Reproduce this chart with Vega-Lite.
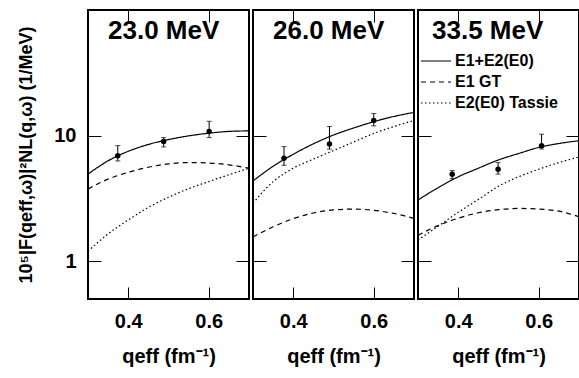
{
  "$schema": "https://vega.github.io/schema/vega-lite/v6.json",
  "padding": {"left": 16, "top": 9, "right": 0, "bottom": 0},
  "spacing": 4,
  "bounds": "flush",
  "config": {
    "font": "Liberation Sans",
    "view": {"stroke": "black", "strokeWidth": 2, "fill": "transparent"},
    "axis": {"domain": false, "ticks": false, "grid": true, "gridColor": "black", "gridOpacity": 1, "gridWidth": 1, "labelColor": "black", "titleColor": "black", "labelFont": "Liberation Sans", "titleFont": "Liberation Sans", "labelFontWeight": "bold", "titleFontWeight": "bold", "labelOverlap": false, "labelFlush": false, "minExtent": 0}
  },
  "resolve": {"scale": {"strokeDash": "independent"}, "legend": {"strokeDash": "independent"}},
  "datasets": {
    "curves": [
      {"p": "23.0 MeV", "m": "E1+E2(E0)", "q": 0.3, "v": 4.94},
      {"p": "23.0 MeV", "m": "E1+E2(E0)", "q": 0.35, "v": 6.3},
      {"p": "23.0 MeV", "m": "E1+E2(E0)", "q": 0.4, "v": 7.5},
      {"p": "23.0 MeV", "m": "E1+E2(E0)", "q": 0.45, "v": 8.5},
      {"p": "23.0 MeV", "m": "E1+E2(E0)", "q": 0.5, "v": 9.3},
      {"p": "23.0 MeV", "m": "E1+E2(E0)", "q": 0.55, "v": 9.95},
      {"p": "23.0 MeV", "m": "E1+E2(E0)", "q": 0.6, "v": 10.45},
      {"p": "23.0 MeV", "m": "E1+E2(E0)", "q": 0.65, "v": 10.8},
      {"p": "23.0 MeV", "m": "E1+E2(E0)", "q": 0.7, "v": 10.9},
      {"p": "23.0 MeV", "m": "E1 GT", "q": 0.3, "v": 3.76},
      {"p": "23.0 MeV", "m": "E1 GT", "q": 0.35, "v": 4.5},
      {"p": "23.0 MeV", "m": "E1 GT", "q": 0.4, "v": 5.1},
      {"p": "23.0 MeV", "m": "E1 GT", "q": 0.45, "v": 5.6},
      {"p": "23.0 MeV", "m": "E1 GT", "q": 0.5, "v": 5.95},
      {"p": "23.0 MeV", "m": "E1 GT", "q": 0.55, "v": 6.1},
      {"p": "23.0 MeV", "m": "E1 GT", "q": 0.6, "v": 6.05},
      {"p": "23.0 MeV", "m": "E1 GT", "q": 0.65, "v": 5.85},
      {"p": "23.0 MeV", "m": "E1 GT", "q": 0.7, "v": 5.5},
      {"p": "23.0 MeV", "m": "E2(E0) Tassie", "q": 0.3, "v": 1.2},
      {"p": "23.0 MeV", "m": "E2(E0) Tassie", "q": 0.35, "v": 1.65},
      {"p": "23.0 MeV", "m": "E2(E0) Tassie", "q": 0.4, "v": 2.13},
      {"p": "23.0 MeV", "m": "E2(E0) Tassie", "q": 0.45, "v": 2.68},
      {"p": "23.0 MeV", "m": "E2(E0) Tassie", "q": 0.5, "v": 3.23},
      {"p": "23.0 MeV", "m": "E2(E0) Tassie", "q": 0.55, "v": 3.78},
      {"p": "23.0 MeV", "m": "E2(E0) Tassie", "q": 0.6, "v": 4.3},
      {"p": "23.0 MeV", "m": "E2(E0) Tassie", "q": 0.65, "v": 4.88},
      {"p": "23.0 MeV", "m": "E2(E0) Tassie", "q": 0.7, "v": 5.5},
      {"p": "26.0 MeV", "m": "E1+E2(E0)", "q": 0.3, "v": 4.35},
      {"p": "26.0 MeV", "m": "E1+E2(E0)", "q": 0.35, "v": 5.7},
      {"p": "26.0 MeV", "m": "E1+E2(E0)", "q": 0.4, "v": 7.1},
      {"p": "26.0 MeV", "m": "E1+E2(E0)", "q": 0.45, "v": 8.6},
      {"p": "26.0 MeV", "m": "E1+E2(E0)", "q": 0.5, "v": 10.1},
      {"p": "26.0 MeV", "m": "E1+E2(E0)", "q": 0.55, "v": 11.5},
      {"p": "26.0 MeV", "m": "E1+E2(E0)", "q": 0.6, "v": 12.9},
      {"p": "26.0 MeV", "m": "E1+E2(E0)", "q": 0.65, "v": 14.2},
      {"p": "26.0 MeV", "m": "E1+E2(E0)", "q": 0.7, "v": 15.3},
      {"p": "26.0 MeV", "m": "E1 GT", "q": 0.3, "v": 1.56},
      {"p": "26.0 MeV", "m": "E1 GT", "q": 0.35, "v": 1.88},
      {"p": "26.0 MeV", "m": "E1 GT", "q": 0.4, "v": 2.18},
      {"p": "26.0 MeV", "m": "E1 GT", "q": 0.45, "v": 2.42},
      {"p": "26.0 MeV", "m": "E1 GT", "q": 0.5, "v": 2.56},
      {"p": "26.0 MeV", "m": "E1 GT", "q": 0.55, "v": 2.6},
      {"p": "26.0 MeV", "m": "E1 GT", "q": 0.6, "v": 2.54},
      {"p": "26.0 MeV", "m": "E1 GT", "q": 0.65, "v": 2.4},
      {"p": "26.0 MeV", "m": "E1 GT", "q": 0.7, "v": 2.19},
      {"p": "26.0 MeV", "m": "E2(E0) Tassie", "q": 0.3, "v": 2.9},
      {"p": "26.0 MeV", "m": "E2(E0) Tassie", "q": 0.35, "v": 4.3},
      {"p": "26.0 MeV", "m": "E2(E0) Tassie", "q": 0.4, "v": 5.5},
      {"p": "26.0 MeV", "m": "E2(E0) Tassie", "q": 0.45, "v": 6.5},
      {"p": "26.0 MeV", "m": "E2(E0) Tassie", "q": 0.5, "v": 7.6},
      {"p": "26.0 MeV", "m": "E2(E0) Tassie", "q": 0.55, "v": 8.9},
      {"p": "26.0 MeV", "m": "E2(E0) Tassie", "q": 0.6, "v": 10.4},
      {"p": "26.0 MeV", "m": "E2(E0) Tassie", "q": 0.65, "v": 11.8},
      {"p": "26.0 MeV", "m": "E2(E0) Tassie", "q": 0.7, "v": 13.2},
      {"p": "33.5 MeV", "m": "E1+E2(E0)", "q": 0.3, "v": 3.07},
      {"p": "33.5 MeV", "m": "E1+E2(E0)", "q": 0.35, "v": 3.85},
      {"p": "33.5 MeV", "m": "E1+E2(E0)", "q": 0.4, "v": 4.7},
      {"p": "33.5 MeV", "m": "E1+E2(E0)", "q": 0.45, "v": 5.5},
      {"p": "33.5 MeV", "m": "E1+E2(E0)", "q": 0.5, "v": 6.4},
      {"p": "33.5 MeV", "m": "E1+E2(E0)", "q": 0.55, "v": 7.2},
      {"p": "33.5 MeV", "m": "E1+E2(E0)", "q": 0.6, "v": 8.05},
      {"p": "33.5 MeV", "m": "E1+E2(E0)", "q": 0.65, "v": 8.65},
      {"p": "33.5 MeV", "m": "E1+E2(E0)", "q": 0.7, "v": 9.1},
      {"p": "33.5 MeV", "m": "E1 GT", "q": 0.3, "v": 1.61},
      {"p": "33.5 MeV", "m": "E1 GT", "q": 0.35, "v": 1.92},
      {"p": "33.5 MeV", "m": "E1 GT", "q": 0.4, "v": 2.2},
      {"p": "33.5 MeV", "m": "E1 GT", "q": 0.45, "v": 2.43},
      {"p": "33.5 MeV", "m": "E1 GT", "q": 0.5, "v": 2.57},
      {"p": "33.5 MeV", "m": "E1 GT", "q": 0.55, "v": 2.63},
      {"p": "33.5 MeV", "m": "E1 GT", "q": 0.6, "v": 2.6},
      {"p": "33.5 MeV", "m": "E1 GT", "q": 0.65, "v": 2.5},
      {"p": "33.5 MeV", "m": "E1 GT", "q": 0.7, "v": 2.26},
      {"p": "33.5 MeV", "m": "E2(E0) Tassie", "q": 0.3, "v": 1.47},
      {"p": "33.5 MeV", "m": "E2(E0) Tassie", "q": 0.35, "v": 1.9},
      {"p": "33.5 MeV", "m": "E2(E0) Tassie", "q": 0.4, "v": 2.45},
      {"p": "33.5 MeV", "m": "E2(E0) Tassie", "q": 0.45, "v": 3.1},
      {"p": "33.5 MeV", "m": "E2(E0) Tassie", "q": 0.5, "v": 3.95},
      {"p": "33.5 MeV", "m": "E2(E0) Tassie", "q": 0.55, "v": 4.7},
      {"p": "33.5 MeV", "m": "E2(E0) Tassie", "q": 0.6, "v": 5.4},
      {"p": "33.5 MeV", "m": "E2(E0) Tassie", "q": 0.65, "v": 6.1},
      {"p": "33.5 MeV", "m": "E2(E0) Tassie", "q": 0.7, "v": 6.75}
    ],
    "pts": [
      {"p": "23.0 MeV", "q": 0.374, "v": 6.92, "lo": 6.28, "hi": 8.32},
      {"p": "23.0 MeV", "q": 0.488, "v": 8.96, "lo": 8.12, "hi": 9.64},
      {"p": "23.0 MeV", "q": 0.601, "v": 10.76, "lo": 9.64, "hi": 13.0},
      {"p": "26.0 MeV", "q": 0.377, "v": 6.6, "lo": 5.8, "hi": 8.17},
      {"p": "26.0 MeV", "q": 0.49, "v": 8.59, "lo": 7.8, "hi": 11.8},
      {"p": "26.0 MeV", "q": 0.6, "v": 13.2, "lo": 11.95, "hi": 14.98},
      {"p": "33.5 MeV", "q": 0.385, "v": 4.92, "lo": 4.54, "hi": 5.26},
      {"p": "33.5 MeV", "q": 0.499, "v": 5.39, "lo": 4.94, "hi": 6.09},
      {"p": "33.5 MeV", "q": 0.607, "v": 8.32, "lo": 7.83, "hi": 10.26}
    ]
  },
  "hconcat": [
    {
      "width": 161, "height": 289,
      "title": {"text": "23.0 MeV", "anchor": "start", "orient": "top", "frame": "group", "offset": -55, "dx": 20, "baseline": "alphabetic", "fontSize": 26, "fontWeight": "bold", "color": "black", "font": "Liberation Sans"},
      "resolve": {"axis": {"x": "independent", "y": "independent"}},
      "layer": [
        {
          "data": {"name": "curves"},
          "transform": [{"filter": "datum.p == '23.0 MeV'"}],
          "mark": {"type": "line", "interpolate": "monotone", "color": "black", "strokeWidth": 1.2},
          "encoding": {
            "x": {"field": "q", "type": "quantitative", "scale": {"domain": [0.3, 0.7], "nice": false, "zero": false},
              "axis": {"orient": "bottom", "values": [0.4, 0.6], "format": ".1f", "gridDash": [12, 265, 12, 400], "labelPadding": 12, "labelFontSize": 20, "title": "qeff (fm⁻¹)", "titleFontSize": 20, "titlePadding": 15}},
            "y": {"field": "v", "type": "quantitative", "scale": {"type": "log", "domain": [0.5, 100], "nice": false},
              "axis": {"orient": "left", "values": [1, 10], "format": "d", "gridDash": [13, 135, 13, 400], "labelPadding": 12, "labelFontSize": 20, "title": "10⁵|F(qeff,ω)|²NL(q,ω) (1/MeV)", "titleFontSize": 18, "titlePadding": 18}},
            "strokeDash": {"field": "m", "type": "nominal", "scale": {"domain": ["E1+E2(E0)", "E1 GT", "E2(E0) Tassie"], "range": [[1, 0], [5, 4], [1.5, 2.5]]}, "legend": null}
          }
        },
        {
          "data": {"name": "pts"},
          "transform": [{"filter": "datum.p == '23.0 MeV'"}],
          "mark": {"type": "rule", "color": "black", "strokeWidth": 1},
          "encoding": {
            "x": {"field": "q", "type": "quantitative", "axis": {"orient": "bottom", "values": [0.35, 0.45, 0.5, 0.55, 0.65], "labels": false, "title": null, "gridDash": [6, 277, 6, 400]}},
            "y": {"field": "lo", "type": "quantitative", "axis": {"orient": "left", "values": [0.5, 0.6, 0.7, 0.8, 0.9, 2, 3, 4, 5, 6, 7, 8, 9, 20, 30, 40, 50, 60, 70, 80, 90], "labels": false, "title": null, "gridDash": [5, 151, 5, 400]}},
            "y2": {"field": "hi"}
          }
        },
        {
          "data": {"name": "pts"},
          "transform": [{"filter": "datum.p == '23.0 MeV'"}],
          "mark": {"type": "point", "filled": true, "color": "black", "size": 30, "opacity": 1},
          "encoding": {
            "x": {"field": "q", "type": "quantitative", "axis": null},
            "y": {"field": "v", "type": "quantitative", "axis": null}
          }
        },
        {
          "data": {"name": "pts"},
          "transform": [{"filter": "datum.p == '23.0 MeV'"}],
          "mark": {"type": "tick", "orient": "horizontal", "color": "black", "size": 5, "thickness": 1},
          "encoding": {
            "x": {"field": "q", "type": "quantitative", "axis": null},
            "y": {"field": "lo", "type": "quantitative", "axis": null}
          }
        },
        {
          "data": {"name": "pts"},
          "transform": [{"filter": "datum.p == '23.0 MeV'"}],
          "mark": {"type": "tick", "orient": "horizontal", "color": "black", "size": 5, "thickness": 1},
          "encoding": {
            "x": {"field": "q", "type": "quantitative", "axis": null},
            "y": {"field": "hi", "type": "quantitative", "axis": null}
          }
        }
      ]
    },
    {
      "width": 161, "height": 289,
      "title": {"text": "26.0 MeV", "anchor": "start", "orient": "top", "frame": "group", "offset": -55, "dx": 20, "baseline": "alphabetic", "fontSize": 26, "fontWeight": "bold", "color": "black", "font": "Liberation Sans"},
      "resolve": {"axis": {"x": "independent", "y": "independent"}},
      "layer": [
        {
          "data": {"name": "curves"},
          "transform": [{"filter": "datum.p == '26.0 MeV'"}],
          "mark": {"type": "line", "interpolate": "monotone", "color": "black", "strokeWidth": 1.2},
          "encoding": {
            "x": {"field": "q", "type": "quantitative", "scale": {"domain": [0.3, 0.7], "nice": false, "zero": false},
              "axis": {"orient": "bottom", "values": [0.4, 0.6], "format": ".1f", "gridDash": [12, 265, 12, 400], "labelPadding": 12, "labelFontSize": 20, "title": "qeff (fm⁻¹)", "titleFontSize": 20, "titlePadding": 15}},
            "y": {"field": "v", "type": "quantitative", "scale": {"type": "log", "domain": [0.5, 100], "nice": false},
              "axis": {"orient": "left", "values": [1, 10], "labels": false, "title": null, "gridDash": [13, 135, 13, 400]}},
            "strokeDash": {"field": "m", "type": "nominal", "scale": {"domain": ["E1+E2(E0)", "E1 GT", "E2(E0) Tassie"], "range": [[1, 0], [5, 4], [1.5, 2.5]]}, "legend": null}
          }
        },
        {
          "data": {"name": "pts"},
          "transform": [{"filter": "datum.p == '26.0 MeV'"}],
          "mark": {"type": "rule", "color": "black", "strokeWidth": 1},
          "encoding": {
            "x": {"field": "q", "type": "quantitative", "axis": {"orient": "bottom", "values": [0.35, 0.45, 0.5, 0.55, 0.65], "labels": false, "title": null, "gridDash": [6, 277, 6, 400]}},
            "y": {"field": "lo", "type": "quantitative", "axis": {"orient": "left", "values": [0.5, 0.6, 0.7, 0.8, 0.9, 2, 3, 4, 5, 6, 7, 8, 9, 20, 30, 40, 50, 60, 70, 80, 90], "labels": false, "title": null, "gridDash": [5, 151, 5, 400]}},
            "y2": {"field": "hi"}
          }
        },
        {
          "data": {"name": "pts"},
          "transform": [{"filter": "datum.p == '26.0 MeV'"}],
          "mark": {"type": "point", "filled": true, "color": "black", "size": 30, "opacity": 1},
          "encoding": {
            "x": {"field": "q", "type": "quantitative", "axis": null},
            "y": {"field": "v", "type": "quantitative", "axis": null}
          }
        },
        {
          "data": {"name": "pts"},
          "transform": [{"filter": "datum.p == '26.0 MeV'"}],
          "mark": {"type": "tick", "orient": "horizontal", "color": "black", "size": 5, "thickness": 1},
          "encoding": {
            "x": {"field": "q", "type": "quantitative", "axis": null},
            "y": {"field": "lo", "type": "quantitative", "axis": null}
          }
        },
        {
          "data": {"name": "pts"},
          "transform": [{"filter": "datum.p == '26.0 MeV'"}],
          "mark": {"type": "tick", "orient": "horizontal", "color": "black", "size": 5, "thickness": 1},
          "encoding": {
            "x": {"field": "q", "type": "quantitative", "axis": null},
            "y": {"field": "hi", "type": "quantitative", "axis": null}
          }
        }
      ]
    },
    {
      "width": 161, "height": 289,
      "title": {"text": "33.5 MeV", "anchor": "start", "orient": "top", "frame": "group", "offset": -55, "dx": 14, "baseline": "alphabetic", "fontSize": 26, "fontWeight": "bold", "color": "black", "font": "Liberation Sans"},
      "resolve": {"axis": {"x": "independent", "y": "independent"}},
      "layer": [
        {
          "data": {"name": "curves"},
          "transform": [{"filter": "datum.p == '33.5 MeV'"}],
          "mark": {"type": "line", "interpolate": "monotone", "color": "black", "strokeWidth": 1.2},
          "encoding": {
            "x": {"field": "q", "type": "quantitative", "scale": {"domain": [0.3, 0.7], "nice": false, "zero": false},
              "axis": {"orient": "bottom", "values": [0.4, 0.6], "format": ".1f", "gridDash": [12, 265, 12, 400], "labelPadding": 12, "labelFontSize": 20, "title": "qeff (fm⁻¹)", "titleFontSize": 20, "titlePadding": 15}},
            "y": {"field": "v", "type": "quantitative", "scale": {"type": "log", "domain": [0.5, 100], "nice": false},
              "axis": {"orient": "left", "values": [1, 10], "labels": false, "title": null, "gridDash": [13, 135, 13, 400]}},
            "strokeDash": {"field": "m", "type": "nominal", "scale": {"domain": ["E1+E2(E0)", "E1 GT", "E2(E0) Tassie"], "range": [[1, 0], [5, 4], [1.5, 2.5]]},
              "legend": {"orient": "none", "legendX": 7, "legendY": 40, "title": null, "symbolType": "M-1.5,0H1.5", "symbolSize": 400, "symbolStrokeWidth": 1.2, "symbolStrokeColor": "black", "symbolFillColor": "transparent", "labelFontSize": 16, "labelFontWeight": "bold", "labelColor": "black", "labelFont": "Liberation Sans", "rowPadding": 2, "labelOffset": 8}}
          }
        },
        {
          "data": {"name": "pts"},
          "transform": [{"filter": "datum.p == '33.5 MeV'"}],
          "mark": {"type": "rule", "color": "black", "strokeWidth": 1},
          "encoding": {
            "x": {"field": "q", "type": "quantitative", "axis": {"orient": "bottom", "values": [0.35, 0.45, 0.5, 0.55, 0.65], "labels": false, "title": null, "gridDash": [6, 277, 6, 400]}},
            "y": {"field": "lo", "type": "quantitative", "axis": {"orient": "left", "values": [0.5, 0.6, 0.7, 0.8, 0.9, 2, 3, 4, 5, 6, 7, 8, 9, 20, 30, 40, 50, 60, 70, 80, 90], "labels": false, "title": null, "gridDash": [5, 151, 5, 400]}},
            "y2": {"field": "hi"}
          }
        },
        {
          "data": {"name": "pts"},
          "transform": [{"filter": "datum.p == '33.5 MeV'"}],
          "mark": {"type": "point", "filled": true, "color": "black", "size": 30, "opacity": 1},
          "encoding": {
            "x": {"field": "q", "type": "quantitative", "axis": null},
            "y": {"field": "v", "type": "quantitative", "axis": null}
          }
        },
        {
          "data": {"name": "pts"},
          "transform": [{"filter": "datum.p == '33.5 MeV'"}],
          "mark": {"type": "tick", "orient": "horizontal", "color": "black", "size": 5, "thickness": 1},
          "encoding": {
            "x": {"field": "q", "type": "quantitative", "axis": null},
            "y": {"field": "lo", "type": "quantitative", "axis": null}
          }
        },
        {
          "data": {"name": "pts"},
          "transform": [{"filter": "datum.p == '33.5 MeV'"}],
          "mark": {"type": "tick", "orient": "horizontal", "color": "black", "size": 5, "thickness": 1},
          "encoding": {
            "x": {"field": "q", "type": "quantitative", "axis": null},
            "y": {"field": "hi", "type": "quantitative", "axis": null}
          }
        }
      ]
    }
  ]
}
